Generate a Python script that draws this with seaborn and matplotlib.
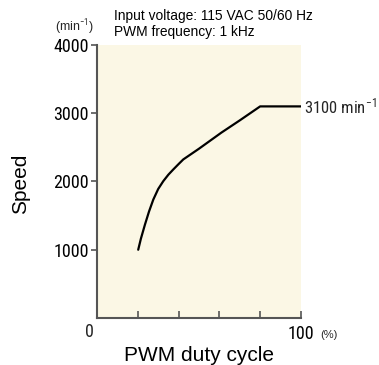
import matplotlib
matplotlib.use("Agg")
import matplotlib.pyplot as plt
import seaborn as sns
import pandas as pd
from matplotlib import font_manager

# Speed vs. PWM duty cycle characteristic
duty = [20.2, 21.5, 23.5, 25.5, 27.6, 30.0, 32.5, 35.0, 37.4, 40.0, 42.3, 50.0, 61.0, 70.0, 80.0, 90.0, 100.0]
speed = [1000, 1160, 1368, 1560, 1735, 1890, 2005, 2100, 2176, 2255, 2323, 2480, 2716, 2895, 3100, 3100, 3100]
y_ticks = [1000, 2000, 3000, 4000]
x_ticks = [20, 40, 60, 80, 100]
header_lines = ["Input voltage: 115 VAC 50/60 Hz", "PWM frequency: 1 kHz"]
rated_speed = 3100

sns.set_theme(style="white")
names = {f.name for f in font_manager.fontManager.ttflist}
narrow = next((n for n in ["Liberation Sans Narrow", "Roboto Condensed", "Roboto"] if n in names),
              "Liberation Sans")
plt.rcParams["font.family"] = ["Liberation Sans", "DejaVu Sans"]
plt.rcParams["mathtext.fontset"] = "custom"
plt.rcParams["mathtext.rm"] = narrow
plt.rcParams["mathtext.it"] = narrow

df = pd.DataFrame({"duty": duty, "speed": speed})

fig = plt.figure(figsize=(3.79, 3.65), dpi=100)
ax = fig.add_axes([0.256, 0.1288, 0.538, 0.748])
ax.set_facecolor("#fbf7e5")

sns.lineplot(data=df, x="duty", y="speed", ax=ax, color="black", linewidth=1.6)
ax.set_xlim(0, 100)
ax.set_ylim(0, 4000)

for side in ("top", "right"):
    ax.spines[side].set_visible(False)
for side in ("left", "bottom"):
    ax.spines[side].set_color("#555555")
    ax.spines[side].set_linewidth(1.5)

tick_size = 13
ax.set_yticks(y_ticks)
ax.set_yticklabels([str(v) for v in y_ticks], fontfamily=narrow, fontsize=tick_size, color="black")
ax.tick_params(axis="y", direction="out", length=4, width=1.2, color="#555555", pad=2, left=True)

ax.set_xticks(x_ticks)
ax.set_xticklabels(["" for _ in x_ticks[:-1]] + ["100"], fontfamily=narrow, fontsize=tick_size, color="black")
ax.tick_params(axis="x", direction="in", length=5, width=1.2, color="#555555", pad=5, bottom=True)

ax.set_xlabel("PWM duty cycle", fontsize=15, color="black")
ax.set_ylabel("Speed", fontsize=15, color="black")
ax.xaxis.set_label_coords(0.5, -0.102)
ax.yaxis.set_label_coords(-0.33, 0.49)

# origin label and units
ax.text(-3.9, -80, "0", ha="center", va="top", fontfamily=narrow, fontsize=tick_size, clip_on=False)
ax.text(109.5, -180, "(%)", ha="left", va="top", fontsize=8, clip_on=False)
ax.text(-11.3, 4110, "(min$^{-1}$)", ha="center", va="bottom", fontsize=9, clip_on=False)
ax.text(101.5, rated_speed, f"{rated_speed} min$^{{-1}}$", ha="left", va="center",
        fontfamily=narrow, fontsize=12, clip_on=False)

fig.text(0.302, 0.957, header_lines[0], ha="left", va="center", fontsize=9.9, color="black")
fig.text(0.302, 0.911, header_lines[1], ha="left", va="center", fontsize=9.9, color="black")

fig.savefig("out.png", dpi=100)
